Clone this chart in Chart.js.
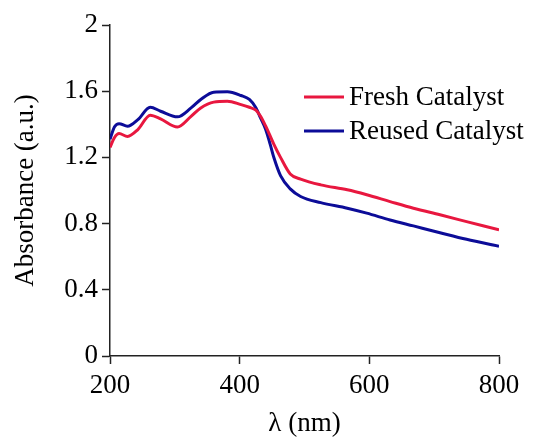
<!DOCTYPE html>
<html>
<head>
<meta charset="utf-8">
<script src="https://cdn.jsdelivr.net/npm/chart.js@4"></script>
<style>
  html, body { margin: 0; padding: 0; background: #fff; }
  #wrap { width: 534px; height: 442px; }
</style>
</head>
<body>
<div id="wrap"><canvas id="uvChart" width="534" height="442"></canvas></div>
<script>
// wavelength (nm)
var wavelengths = [200, 207, 214, 227, 243, 262, 278, 304, 325, 340, 360, 381, 402, 415, 425, 432, 440, 447, 453, 463, 478, 494, 525, 566, 596, 632, 668, 709, 750, 800];

// absorbance (a.u.)
var freshAbs = [1.26, 1.32, 1.344, 1.327, 1.368, 1.455, 1.433, 1.384, 1.448, 1.499, 1.534, 1.539, 1.519, 1.503, 1.485, 1.45, 1.39, 1.33, 1.277, 1.2, 1.1, 1.069, 1.034, 1.004, 0.974, 0.933, 0.893, 0.853, 0.812, 0.762];
var reusedAbs = [1.31, 1.385, 1.404, 1.388, 1.428, 1.503, 1.479, 1.445, 1.499, 1.55, 1.594, 1.596, 1.574, 1.55, 1.50, 1.44, 1.37, 1.28, 1.196, 1.09, 1.01, 0.964, 0.927, 0.893, 0.863, 0.822, 0.786, 0.745, 0.705, 0.663];

var seriesNames = ["Fresh Catalyst", "Reused Catalyst"];
var seriesColors = ["#e8173f", "#0c0c98"];

var serif = "'Liberation Serif', 'Times New Roman', serif";

function toPoints(ys) {
  return wavelengths.map(function (x, i) { return { x: x, y: ys[i] }; });
}

// legend drawn inside the plot, right of the peak
var lineLegend = {
  id: 'lineLegend',
  afterDraw: function (chart) {
    var c = chart.ctx;
    var area = chart.chartArea;
    var x0 = area.left + 194;
    var y0 = area.top + 72;
    c.save();
    c.font = "27px " + serif;
    c.textBaseline = 'middle';
    c.fillStyle = '#000';
    chart.data.datasets.forEach(function (ds, i) {
      var y = y0 + i * 34;
      c.strokeStyle = ds.borderColor;
      c.lineWidth = 3;
      c.beginPath();
      c.moveTo(x0, y);
      c.lineTo(x0 + 40, y);
      c.stroke();
      c.fillText(ds.label, x0 + 45, y + 1);
    });
    c.restore();
  }
};

var ctx = document.getElementById("uvChart");

new Chart(ctx, {
  type: 'line',
  data: {
    datasets: [{
      label: seriesNames[0],
      data: toPoints(freshAbs),
      borderColor: seriesColors[0],
      borderWidth: 3,
      pointRadius: 0,
      cubicInterpolationMode: 'monotone',
      fill: false
    }, {
      label: seriesNames[1],
      data: toPoints(reusedAbs),
      borderColor: seriesColors[1],
      borderWidth: 3,
      pointRadius: 0,
      cubicInterpolationMode: 'monotone',
      fill: false
    }]
  },
  options: {
    responsive: false,
    animation: false,
    layout: { padding: { top: 25, right: 35, left: 0, bottom: 0 } },
    plugins: {
      legend: { display: false },
      tooltip: { enabled: false }
    },
    scales: {
      x: {
        type: 'linear',
        min: 200,
        max: 800,
        ticks: { stepSize: 200, color: '#000', padding: 6, font: { family: serif, size: 27 } },
        grid: { drawOnChartArea: false, tickLength: 8, tickColor: '#222', tickWidth: 1.5 },
        border: { color: '#222', width: 1.5 },
        title: { display: true, text: 'λ (nm)', color: '#000', padding: 2, font: { family: serif, size: 27 } },
        afterFit: function (scale) { scale.height = 86; }
      },
      y: {
        min: 0,
        max: 2,
        ticks: {
          stepSize: 0.4, color: '#000', padding: 4, font: { family: serif, size: 27 },
          callback: function (value) { return String(Number(value.toFixed(1))); }
        },
        grid: { drawOnChartArea: false, tickLength: 8, tickColor: '#222', tickWidth: 1.5 },
        border: { color: '#222', width: 1.5 },
        title: { display: true, text: 'Absorbance (a.u.)', color: '#000', padding: 10, font: { family: serif, size: 27 } },
        afterFit: function (scale) { scale.width = 110; }
      }
    }
  },
  plugins: [lineLegend]
});
</script>
</body>
</html>
